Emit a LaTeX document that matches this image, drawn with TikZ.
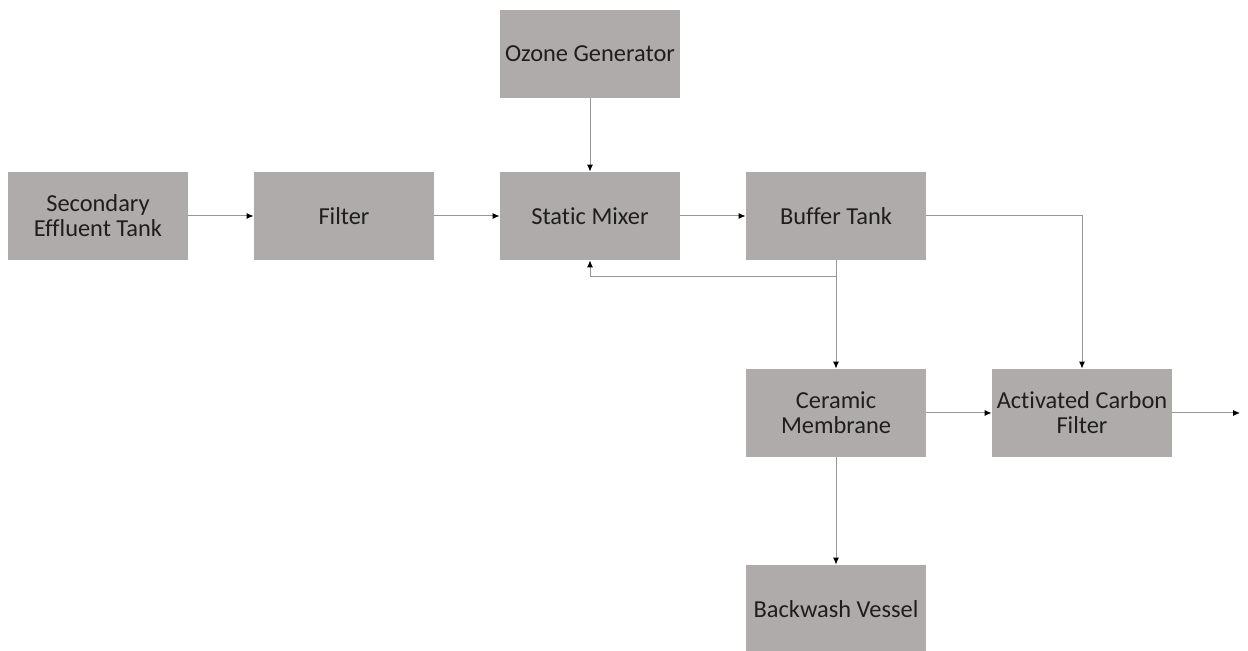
\documentclass[tikz,border=0pt]{standalone}
\usepackage{fontspec}
\setmainfont{Carlito}[Ligatures=NoCommon]
\usetikzlibrary{arrows.meta}
\definecolor{boxgray}{RGB}{175,171,171}
\definecolor{txt}{RGB}{30,30,30}
\definecolor{ln}{RGB}{150,150,150}
\begin{document}
\begin{tikzpicture}[x=0.5pt,y=-0.5pt,
  blk/.style={rectangle,fill=boxgray,draw=none,minimum width=90pt,minimum height=44pt,
    inner sep=0pt,align=center,text=txt,font=\fontsize{12.2}{12.5}\selectfont},
  arr/.style={draw=ln,line width=0.5pt,-{Latex[length=3.5pt,width=3pt,color=black]}}]
\useasboundingbox (0,0) rectangle (1248,651);
\node[blk] (set) at (98,216) {Secondary\\Effluent Tank};
\node[blk] (fil) at (344,216) {Filter};
\node[blk] (sm) at (590,216) {Static Mixer};
\node[blk] (og) at (590,54) {Ozone Generator};
\node[blk] (bt) at (836,216) {Buffer Tank};
\node[blk] (cm) at (836,413) {Ceramic\\Membrane};
\node[blk] (acf) at (1082,413) {Activated Carbon\\Filter};
\node[blk] (bv) at (836,609) {Backwash Vessel};
\coordinate (out) at (1240,413);
\coordinate (fb) at (836,277);
\draw[arr] (set) -- (fil);
\draw[arr] (fil) -- (sm);
\draw[arr] (og) -- (sm);
\draw[arr] (sm) -- (bt);
\draw[arr] (bt) -- (cm);
\draw[arr] (bt.east) -| (acf.north);
\draw[arr] (cm) -- (acf);
\draw[arr] (acf) -- (out);
\draw[arr] (cm) -- (bv);
\draw[arr] (fb) -| (sm.south);
\end{tikzpicture}
\end{document}
